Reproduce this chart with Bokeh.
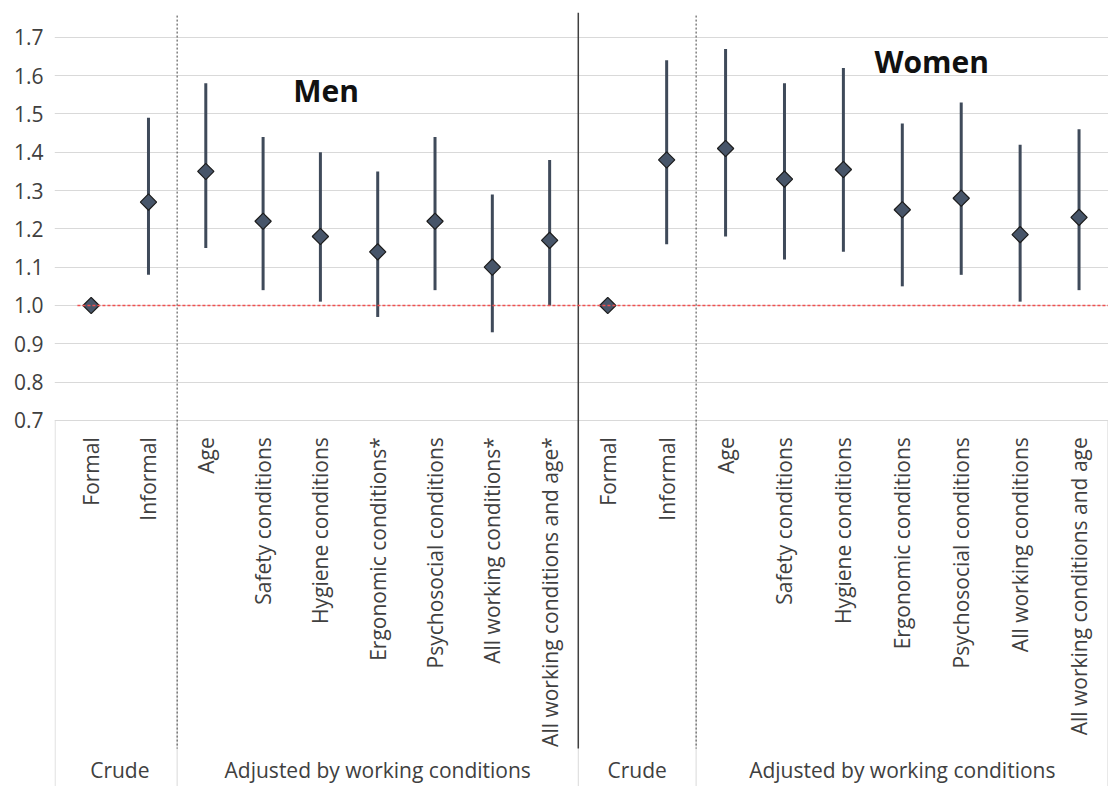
import numpy as np
from bokeh.plotting import figure
from bokeh.models import ColumnDataSource, FixedTicker, PrintfTickFormatter, Range1d
from bokeh.core.properties import value
from bokeh.embed import file_html
from bokeh.resources import INLINE

# ---------------- data ----------------
men_categories = ["Formal", "Informal", "Age", "Safety conditions", "Hygiene conditions",
                  "Ergonomic conditions*", "Psychosocial conditions",
                  "All working conditions*", "All working conditions and age*"]
women_categories = ["Formal", "Informal", "Age", "Safety conditions", "Hygiene conditions",
                    "Ergonomic conditions", "Psychosocial conditions",
                    "All working conditions", "All working conditions and age"]
men_or = [1.00, 1.27, 1.35, 1.22, 1.18, 1.14, 1.22, 1.10, 1.17]
men_lo = [1.00, 1.08, 1.15, 1.04, 1.01, 0.97, 1.04, 0.93, 1.00]
men_hi = [1.00, 1.49, 1.58, 1.44, 1.40, 1.35, 1.44, 1.29, 1.38]
women_or = [1.00, 1.38, 1.41, 1.33, 1.355, 1.25, 1.28, 1.185, 1.23]
women_lo = [1.00, 1.16, 1.18, 1.12, 1.14, 1.05, 1.08, 1.01, 1.04]
women_hi = [1.00, 1.64, 1.67, 1.58, 1.62, 1.475, 1.53, 1.42, 1.46]
y_ticks = [0.7, 0.8, 0.9, 1.0, 1.1, 1.2, 1.3, 1.4, 1.5, 1.6, 1.7]
group_labels = ["Crude", "Adjusted by working conditions"]
panel_titles = ["Men", "Women"]
reference_value = 1.0

# ---------------- layout helpers ----------------
FONT = "Open Sans"
TXT = "#404040"
W = 1.028                     # women slot width relative to men slot width
n = len(men_categories)
men_x = np.arange(n) + 0.5
women_x = n + (np.arange(n) + 0.5) * W
x_start, x_end = -0.14, n + n * W
y_bottom, y_top = -0.256, 1.765
women_edge = n + 2 * W        # crude | adjusted boundary (women)
men_edge = 2.0                # crude | adjusted boundary (men)

p = figure(width=1108, height=786, output_backend="svg", toolbar_location=None,
           x_axis_location=None, min_border_left=54, min_border_right=0,
           min_border_top=12, min_border_bottom=0,
           x_range=Range1d(x_start, x_end), y_range=Range1d(y_bottom, y_top))
p.outline_line_color = None
p.xgrid.visible = False
p.ygrid.ticker = FixedTicker(ticks=y_ticks)
p.ygrid.grid_line_color = "#d9d9d9"
p.ygrid.grid_line_width = 1

ax = p.yaxis[0]
ax.ticker = FixedTicker(ticks=y_ticks)
ax.formatter = PrintfTickFormatter(format="%.1f")
ax.axis_line_color = None
ax.major_tick_line_color = None
ax.minor_tick_line_color = None
ax.major_label_text_font = FONT
ax.major_label_text_font_size = "21px"
ax.major_label_text_color = TXT
ax.major_label_standoff = 5

# label box vertical lines (light gray)
box_x = [x_start + 0.01, men_edge, n, women_edge, x_end - 0.01]
p.segment(x0=box_x, x1=box_x, y0=[0.7] * 5, y1=[y_bottom] * 5, line_color="#d9d9d9", line_width=1)

# dotted separators and the solid men/women divider
p.segment(x0=[men_edge, women_edge], x1=[men_edge, women_edge], y0=[1.757, 1.757], y1=[-0.157, -0.157],
          line_color="#404040", line_width=1, line_dash="2 2")
p.segment(x0=[n], x1=[n], y0=[y_top], y1=[-0.157], line_color="#404040", line_width=1.5)

# error bars and points
xs = np.concatenate([men_x, women_x])
src = ColumnDataSource(dict(x=xs, y=men_or + women_or, lo=men_lo + women_lo, hi=men_hi + women_hi))
p.segment(x0="x", x1="x", y0="lo", y1="hi", source=src, line_color="#3f4a5a", line_width=3)
p.scatter(x="x", y="y", source=src, marker="square", angle=np.pi / 4, size=11.5,
          fill_color="#475569", line_color="#1c1c1c", line_width=1.2)

# reference line at 1.0
p.segment(x0=[0.26], x1=[x_end], y0=[reference_value], y1=[reference_value],
          line_color="#f05050", line_width=1.3, line_dash="3 2")

# category labels (rotated)
p.text(x=xs, y=[0.656] * len(xs), text=men_categories + women_categories, angle=np.pi / 2,
       text_align="right", text_baseline="middle", text_font=value(FONT),
       text_font_size="21px", text_color=TXT)

# group labels
gx = [men_edge / 2, (men_edge + n) / 2, n + W, (women_edge + x_end) / 2]
p.text(x=gx, y=[-0.212] * 4, text=group_labels * 2, text_align="center", text_baseline="middle",
       text_font=value(FONT), text_font_size="21px", text_color=TXT)

# panel titles
p.text(x=[4.6, n + 6.0 * W], y=[1.562, 1.637], text=panel_titles, text_align="center",
       text_baseline="middle", text_font=value(FONT), text_font_size="30px",
       text_font_style="bold", text_color="#111111")

open("out.html", "w").write(file_html(p, INLINE))
